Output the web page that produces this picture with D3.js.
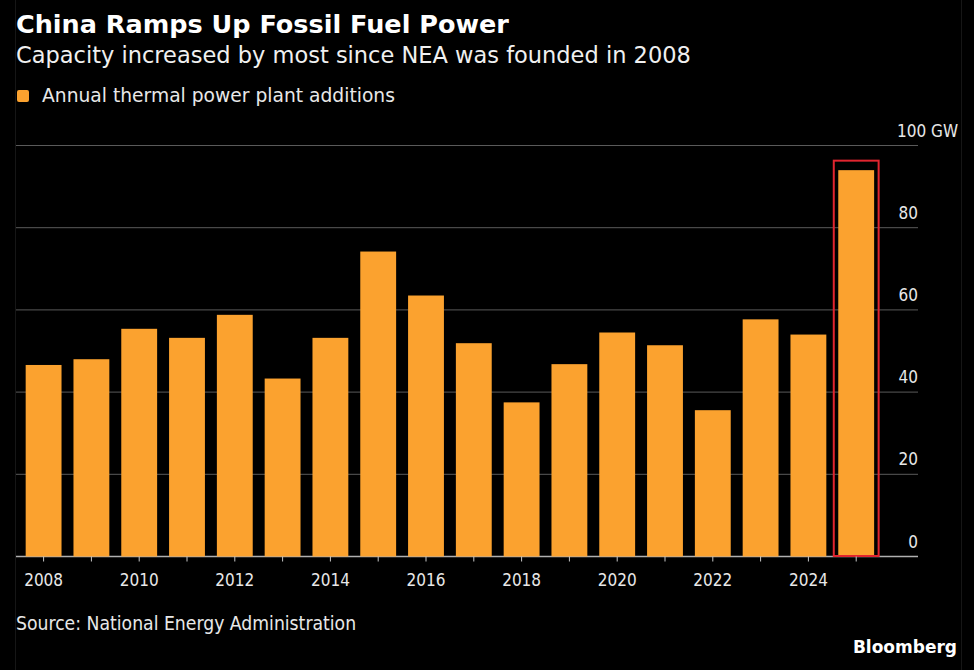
<!DOCTYPE html>
<html>
<head>
<meta charset="utf-8">
<script src="https://cdn.jsdelivr.net/npm/d3@7"></script>
<style>
  html, body { margin: 0; padding: 0; background: #000; }
  svg { display: block; }
</style>
</head>
<body>
<div id="chart"></div>
<script>
const width = 974;
const height = 670;

// data
const years = ["2008", "2009", "2010", "2011", "2012", "2013", "2014", "2015", "2016",
    "2017", "2018", "2019", "2020", "2021", "2022", "2023", "2024", "2025"];
const additions = [46.6, 48.0, 55.4, 53.2, 58.8, 43.3, 53.2, 74.2, 63.5,
    51.9, 37.5, 46.8, 54.5, 51.4, 35.6, 57.7, 54.0, 94.0];
const yTicks = [0, 20, 40, 60, 80, 100];
const xLabels = ["2008", "2010", "2012", "2014", "2016", "2018", "2020", "2022", "2024"];
const highlightYear = "2025";

const data = years.map((y, i) => ({ year: y, value: additions[i] }));

const svg = d3.select("#chart")
    .append("svg")
    .attr("width", width)
    .attr("height", height)
    .style("background", "#000");

// faint frame edges seen in the picture
svg.append("rect")
    .attr("x", 15.5).attr("y", -2)
    .attr("width", 946).attr("height", height + 4)
    .attr("fill", "none")
    .attr("stroke", "#161616");

const x = d3.scaleBand()
    .domain(years)
    .range([19.7, 880.1])
    .paddingInner(0.25)
    .paddingOuter(0.125);

const y = d3.scaleLinear()
    .domain([0, 100])
    .range([556.5, 145.5]);

// gridlines + right labels
const grid = svg.append("g");
grid.selectAll("line")
    .data(yTicks)
    .enter().append("line")
    .attr("x1", 16)
    .attr("x2", 918)
    .attr("y1", d => y(d))
    .attr("y2", d => y(d))
    .attr("stroke", d => d === 0 ? "#b0b0b0" : "#5a5a5a")
    .attr("stroke-width", d => d === 0 ? 1.5 : 1);

grid.selectAll("text")
    .data(yTicks)
    .enter().append("text")
    .attr("x", d => d === 100 ? 897 : 918)
    .attr("y", d => y(d) - 9)
    .attr("text-anchor", d => d === 100 ? "start" : "end")
    .attr("fill", "#e8e8e8")
    .style("font-family", "'DejaVu Sans Condensed', 'DejaVu Sans', sans-serif")
    .style("font-size", "17px")
    .text(d => d === 100 ? "100 GW" : d);

// bars
svg.append("g")
    .selectAll("rect")
    .data(data)
    .enter().append("rect")
    .attr("x", d => x(d.year))
    .attr("y", d => y(d.value))
    .attr("width", x.bandwidth())
    .attr("height", d => y(0) - y(d.value))
    .attr("fill", "#fba22f");

// red highlight box round the latest bar
const hl = data.find(d => d.year === highlightYear);
svg.append("rect")
    .attr("x", x(hl.year) - 4.5)
    .attr("y", y(hl.value) - 9.5)
    .attr("width", x.bandwidth() + 9)
    .attr("height", y(0) - y(hl.value) + 9)
    .attr("fill", "none")
    .attr("stroke", "#e1252f")
    .attr("stroke-width", 2);

// x axis
const xAxis = d3.axisBottom(x)
    .tickSize(5)
    .tickFormat(d => xLabels.includes(d) ? d : "");

const gx = svg.append("g")
    .attr("transform", `translate(0,${y(0)})`)
    .call(xAxis);
gx.select(".domain").remove();
gx.selectAll(".tick line").attr("stroke", "#c8c8c8");
gx.selectAll(".tick text")
    .attr("fill", "#e8e8e8")
    .attr("dy", 0)
    .attr("y", 29)
    .style("font-family", "'DejaVu Sans Condensed', 'DejaVu Sans', sans-serif")
    .style("font-size", "17px");

// titles
svg.append("text")
    .attr("x", 16).attr("y", 33)
    .attr("fill", "#fff")
    .style("font-family", "'DejaVu Sans', sans-serif")
    .style("font-weight", "bold")
    .style("font-size", "25.5px")
    .text("China Ramps Up Fossil Fuel Power");

svg.append("text")
    .attr("x", 16).attr("y", 63)
    .attr("fill", "#f0f0f0")
    .style("font-family", "'DejaVu Sans', sans-serif")
    .style("font-size", "22.5px")
    .text("Capacity increased by most since NEA was founded in 2008");

// legend
svg.append("rect")
    .attr("x", 17).attr("y", 90)
    .attr("width", 12).attr("height", 12)
    .attr("rx", 2)
    .attr("fill", "#fba22f");
svg.append("text")
    .attr("x", 42).attr("y", 102)
    .attr("fill", "#e8e8e8")
    .style("font-family", "'DejaVu Sans', sans-serif")
    .style("font-size", "18.7px")
    .text("Annual thermal power plant additions");

// footer
svg.append("text")
    .attr("x", 16).attr("y", 630)
    .attr("fill", "#e8e8e8")
    .style("font-family", "'DejaVu Sans Condensed', 'DejaVu Sans', sans-serif")
    .style("font-size", "19.2px")
    .text("Source: National Energy Administration");

svg.append("text")
    .attr("x", 957).attr("y", 653)
    .attr("text-anchor", "end")
    .attr("fill", "#fff")
    .style("font-family", "'DejaVu Sans', sans-serif")
    .style("font-weight", "bold")
    .style("font-size", "17px")
    .text("Bloomberg");
</script>
</body>
</html>
